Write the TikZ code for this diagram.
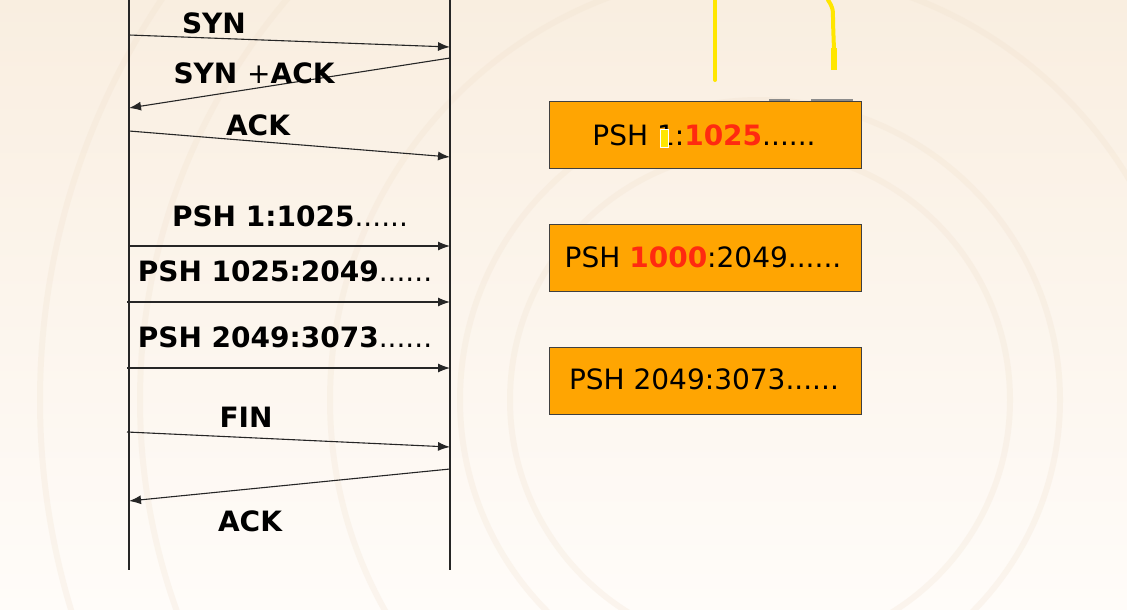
\documentclass[tikz,border=0pt]{standalone}
\usepackage{fontspec}
\newfontfamily\tah{DejaVu Sans}
\usetikzlibrary{arrows.meta}
\definecolor{bgtop}{HTML}{F9EEE0}
\definecolor{bgbot}{HTML}{FFFCF9}
\definecolor{ring}{HTML}{EEDCC6}
\definecolor{boxfill}{HTML}{FFA502}
\definecolor{hot}{HTML}{FF2A10}
\definecolor{marker}{HTML}{FFE600}
\newcommand\sixdots{{\mdseries ......}}
\tikzset{
  lifeline/.style={line width=1.2pt, draw=black!85},
  msg/.style={line width=1.1pt, draw=black!85, -{Latex[length=12pt,width=9pt]}},
  lbl/.style={font=\tah\bfseries\fontsize{28}{30}\selectfont, anchor=base, inner sep=0pt},
  seg/.style={draw=black!75, line width=1pt, fill=boxfill, minimum width=312pt,
    minimum height=67pt, anchor=north west, inner sep=0pt},
  segtext/.style={font=\tah\fontsize{28}{30}\selectfont, anchor=base, inner sep=0pt},
  ink/.style={draw=marker, line cap=round},
  ring/.style={draw=ring, line width=6pt, opacity=0.22},
}
\begin{document}
\begin{tikzpicture}[x=1pt,y=-1pt]
  % page and soft background
  \useasboundingbox (0,0) rectangle (1127,610);
  \shade[top color=bgtop, bottom color=bgbot] (0,0) rectangle (1127,610);
  \begin{scope}
    \clip (0,0) rectangle (1127,610);
    \foreach \r in {250,300,430,620,720}
      \draw[ring] (760,400) circle[radius=\r];
  \end{scope}

  % lifelines
  \coordinate (ctop) at (129,0);
  \coordinate (cbot) at (129,570);
  \coordinate (stop) at (450,0);
  \coordinate (sbot) at (450,570);
  \draw[lifeline] (ctop) -- (cbot);
  \draw[lifeline] (stop) -- (sbot);

  % message end points
  \coordinate (c1) at (129,35);   \coordinate (s1) at (450,47);
  \coordinate (s2) at (450,58);   \coordinate (c2) at (129,108);
  \coordinate (c3) at (129,131);  \coordinate (s3) at (450,157);
  \coordinate (c4) at (129,246);  \coordinate (s4) at (450,246);
  \coordinate (c5) at (127,302);  \coordinate (s5) at (450,302);
  \coordinate (c6) at (127,368);  \coordinate (s6) at (450,368);
  \coordinate (c7) at (127,432);  \coordinate (s7) at (450,447);
  \coordinate (s8) at (450,469);  \coordinate (c8) at (129,501);

  \draw[msg] (c1) -- (s1);
  \draw[msg] (s2) -- (c2);
  \draw[msg] (c3) -- (s3);
  \draw[msg] (c4) -- (s4);
  \draw[msg] (c5) -- (s5);
  \draw[msg] (c6) -- (s6);
  \draw[msg] (c7) -- (s7);
  \draw[msg] (s8) -- (c8);

  % message labels
  \node[lbl] (l1) at (214,34)  {SYN};
  \node[lbl] (l2) at (254,84)  {SYN {\mdseries+}ACK};
  \node[lbl] (l3) at (258,135) {ACK};
  \node[lbl] (l4) at (290,226) {PSH 1:1025\sixdots};
  \node[lbl] (l5) at (285,281) {PSH 1025:2049\sixdots};
  \node[lbl] (l6) at (285,347) {PSH 2049:3073\sixdots};
  \node[lbl] (l7) at (246,427) {FIN};
  \node[lbl] (l8) at (250,531) {ACK};

  % received segments
  \node[seg] (b1) at (549,101) {};
  \node[seg] (b2) at (549,224) {};
  \node[seg] (b3) at (549,347) {};
  \node[segtext] (t1) at (704,145) {PSH 1:\textcolor{hot}{\bfseries 1025}......};
  \node[segtext] (t2) at (703,267) {PSH \textcolor{hot}{\bfseries 1000}:2049......};
  \node[segtext] (t3) at (704,389) {PSH 2049:3073......};

  % pen strokes
  \node[draw=white, fill=marker, line width=0.8pt, minimum width=8pt,
        minimum height=18pt, inner sep=0pt] (cursor) at (664,138) {};
  \draw[ink, line width=4pt] (715,0) -- (715,80);
  \draw[ink, line width=4pt] (828,0) .. controls (833,8) .. (833,22) -- (834,50);
  \draw[draw=marker, line width=6pt] (834,48) -- (834,70);
  \draw[draw=black!45, line width=2pt] (769,100) -- (790,100);
  \draw[draw=black!45, line width=2pt] (811,100) -- (853,100);
\end{tikzpicture}
\end{document}
